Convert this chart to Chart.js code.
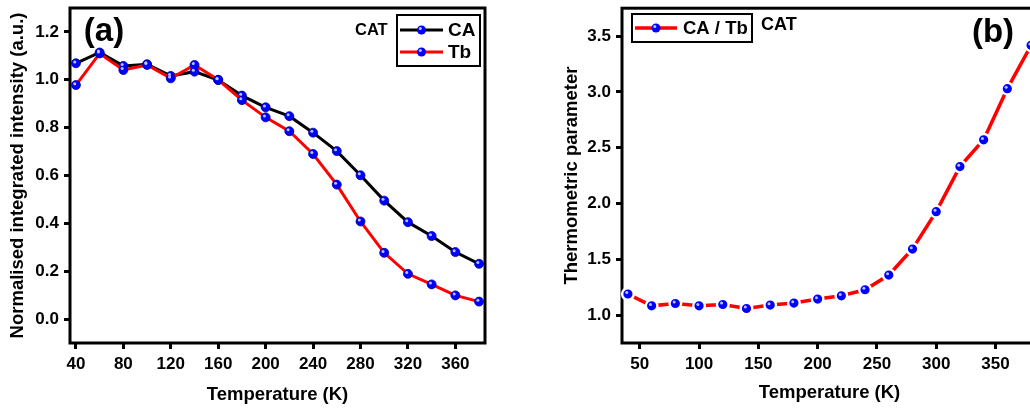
<!DOCTYPE html>
<html lang="en">
<head>
<meta charset="UTF-8">
<title>CA / Tb luminescence thermometry</title>
<script src="https://cdn.jsdelivr.net/npm/chart.js"></script>
<style>
  html, body { margin: 0; padding: 0; background: #fff; overflow: hidden; }
  body { width: 1030px; height: 410px; position: relative; }
  .panel { position: absolute; top: 0; height: 410px; }
  #panelA { left: 0; width: 500px; }
  #panelB { left: 530px; width: 520px; }
</style>
</head>
<body>
<div class="panel" id="panelA"><canvas id="chartA" width="500" height="410"></canvas></div>
<div class="panel" id="panelB"><canvas id="chartB" width="520" height="410"></canvas></div>

<script>
// temperature steps (K)
const temps = [40, 60, 80, 100, 120, 140, 160, 180, 200, 220, 240, 260, 280, 300, 320, 340, 360, 380];

// (a) normalised integrated intensity
const caIntensity = [1.069, 1.114, 1.058, 1.065, 1.016, 1.034, 0.999, 0.934, 0.885, 0.848, 0.779, 0.702, 0.601, 0.495, 0.405, 0.347, 0.280, 0.231];
const tbIntensity = [0.978, 1.110, 1.041, 1.062, 1.006, 1.062, 1.000, 0.915, 0.843, 0.785, 0.690, 0.562, 0.408, 0.277, 0.189, 0.145, 0.099, 0.073];

// (b) thermometric parameter CA / Tb
const ratio = [1.189, 1.083, 1.104, 1.083, 1.095, 1.059, 1.090, 1.108, 1.144, 1.173, 1.227, 1.359, 1.592, 1.927, 2.331, 2.571, 3.029, 3.417];

// tick labels
const xTicksA = [40, 80, 120, 160, 200, 240, 280, 320, 360];
const yTicksA = [0.0, 0.2, 0.4, 0.6, 0.8, 1.0, 1.2];
const xTicksB = [50, 100, 150, 200, 250, 300, 350];
const yTicksB = [1.0, 1.5, 2.0, 2.5, 3.0, 3.5];

const FONT = '"Liberation Sans", Arial, Helvetica, sans-serif';
Chart.defaults.font.family = FONT;
Chart.defaults.color = '#000';

// frame, sphere shine on markers, panel letter, CAT tag and inset legend
const decor = {
  id: 'decor',
  beforeDatasetsDraw(chart) {
    const { ctx, chartArea: a } = chart;
    ctx.save();
    ctx.lineWidth = 3;
    ctx.strokeStyle = '#000';
    ctx.strokeRect(a.left, a.top, a.right - a.left, a.bottom - a.top);
    ctx.restore();
  },
  afterDatasetsDraw(chart, args, o) {
    const ctx = chart.ctx;
    ctx.save();
    chart.data.datasets.forEach((ds, i) => {
      chart.getDatasetMeta(i).data.forEach(pt => shine(ctx, pt.x, pt.y));
    });

    ctx.fillStyle = '#000';
    ctx.textBaseline = 'middle';
    ctx.textAlign = 'center';
    ctx.font = 'bold ' + o.letterSize + 'px ' + FONT;
    ctx.fillText(o.letter, o.letterX, o.letterY);

    ctx.textAlign = 'left';
    ctx.font = 'bold ' + o.catSize + 'px ' + FONT;
    ctx.fillText('CAT', o.catX, o.catY);

    const b = o.box;
    ctx.lineWidth = 2;
    ctx.strokeStyle = '#000';
    ctx.strokeRect(b[0], b[1], b[2], b[3]);
    ctx.font = 'bold ' + o.legendSize + 'px ' + FONT;
    o.entries.forEach(e => {
      const ds = chart.data.datasets[e.ds];
      ctx.beginPath();
      ctx.lineWidth = ds.borderWidth;
      ctx.strokeStyle = ds.borderColor;
      ctx.moveTo(o.lineX[0], e.y);
      ctx.lineTo(o.lineX[1], e.y);
      ctx.stroke();
      const mx = (o.lineX[0] + o.lineX[1]) / 2;
      ctx.beginPath();
      ctx.fillStyle = '#0000ff';
      ctx.arc(mx, e.y, 4.5, 0, Math.PI * 2);
      ctx.fill();
      shine(ctx, mx, e.y);
      ctx.fillStyle = '#000';
      ctx.fillText(ds.label, o.textX, e.y + 1);
    });
    ctx.restore();
  }
};

function shine(ctx, x, y) {
  ctx.beginPath();
  ctx.fillStyle = 'rgba(190,205,255,0.95)';
  ctx.arc(x - 1.2, y - 1.4, 1.5, 0, Math.PI * 2);
  ctx.fill();
}

function axes(cfg) {
  const tickFont = { size: 17, weight: 'bold' };
  const titleFont = { size: 18.5, weight: 'bold' };
  const grid = { display: true, drawOnChartArea: false, drawTicks: true, tickLength: 6, lineWidth: 3, color: '#000' };
  return {
    x: {
      type: 'linear', min: cfg.xMin, max: cfg.xMax,
      border: { display: false },
      grid: grid,
      ticks: { font: tickFont, padding: 5, autoSkip: false, maxRotation: 0, callback: v => String(v) },
      title: { display: true, text: 'Temperature (K)', font: titleFont, padding: { top: 0, bottom: cfg.xTitlePad } },
      afterBuildTicks: s => { s.ticks = cfg.xTicks.map(v => ({ value: v })); },
      afterFit: s => { s.height = 67; s.paddingLeft = 0; s.paddingRight = 0; }
    },
    y: {
      type: 'linear', min: cfg.yMin, max: cfg.yMax,
      border: { display: false },
      grid: grid,
      ticks: { font: tickFont, padding: 5, autoSkip: false, callback: v => Number(v).toFixed(1) },
      title: { display: true, text: cfg.yTitle, font: titleFont, padding: { top: cfg.yTitlePad, bottom: 0 } },
      afterBuildTicks: s => { s.ticks = cfg.yTicks.map(v => ({ value: v })); },
      afterFit: s => { s.width = cfg.yWidth; s.paddingTop = 0; s.paddingBottom = 0; }
    }
  };
}

new Chart(document.getElementById('chartA'), {
  type: 'line',
  data: {
    labels: temps,
    datasets: [{
      label: 'CA',
      data: temps.map((t, i) => ({ x: t, y: caIntensity[i] })),
      borderColor: '#000000',
      borderWidth: 3,
      pointRadius: 4.5,
      pointBackgroundColor: '#0000ff',
      pointBorderColor: '#00009a',
      pointBorderWidth: 0.8,
      tension: 0,
      order: 2,
      clip: false
    }, {
      label: 'Tb',
      data: temps.map((t, i) => ({ x: t, y: tbIntensity[i] })),
      borderColor: '#ff0000',
      borderWidth: 3,
      pointRadius: 4.5,
      pointBackgroundColor: '#0000ff',
      pointBorderColor: '#00009a',
      pointBorderWidth: 0.8,
      tension: 0,
      order: 1,
      clip: false
    }]
  },
  options: {
    responsive: false,
    animation: false,
    devicePixelRatio: 1,
    layout: { padding: { top: 8, right: 15, left: 0, bottom: 0 } },
    scales: axes({ xMin: 35, xMax: 385, yMin: -0.1, yMax: 1.3, xTicks: xTicksA, yTicks: yTicksA,
      yTitle: 'Normalised integrated intensity (a.u.)', yTitlePad: 7, xTitlePad: 4, yWidth: 70 }),
    plugins: {
      legend: { display: false },
      tooltip: { enabled: false },
      decor: {
        letter: '(a)', letterSize: 33, letterX: 104, letterY: 32,
        catSize: 16.5, catX: 355, catY: 30,
        legendSize: 19, box: [397, 15, 83, 51], lineX: [400, 443], textX: 448,
        entries: [{ ds: 0, y: 30 }, { ds: 1, y: 52 }]
      }
    }
  },
  plugins: [decor]
});

new Chart(document.getElementById('chartB'), {
  type: 'line',
  data: {
    labels: temps,
    datasets: [{
      label: 'CA / Tb',
      data: temps.map((t, i) => ({ x: t, y: ratio[i] })),
      borderColor: '#ff0000',
      borderWidth: 3.5,
      pointRadius: 5.8,
      pointBackgroundColor: '#0000ff',
      pointBorderColor: '#ffffff',
      pointBorderWidth: 2.4,
      tension: 0,
      clip: false
    }]
  },
  options: {
    responsive: false,
    animation: false,
    devicePixelRatio: 1,
    layout: { padding: { top: 8, right: 13, left: 0, bottom: 0 } },
    scales: axes({ xMin: 35, xMax: 385, yMin: 0.75, yMax: 3.75, xTicks: xTicksB, yTicks: yTicksB,
      yTitle: 'Thermometric parameter', yTitlePad: 31, xTitlePad: 6, yWidth: 92 }),
    plugins: {
      legend: { display: false },
      tooltip: { enabled: false },
      decor: {
        letter: '(b)', letterSize: 33, letterX: 463, letterY: 33,
        catSize: 18, catX: 231, catY: 25,
        legendSize: 18.5, box: [102, 14, 120, 28], lineX: [105, 147], textX: 153,
        entries: [{ ds: 0, y: 28 }]
      }
    }
  },
  plugins: [decor]
});
</script>
</body>
</html>
